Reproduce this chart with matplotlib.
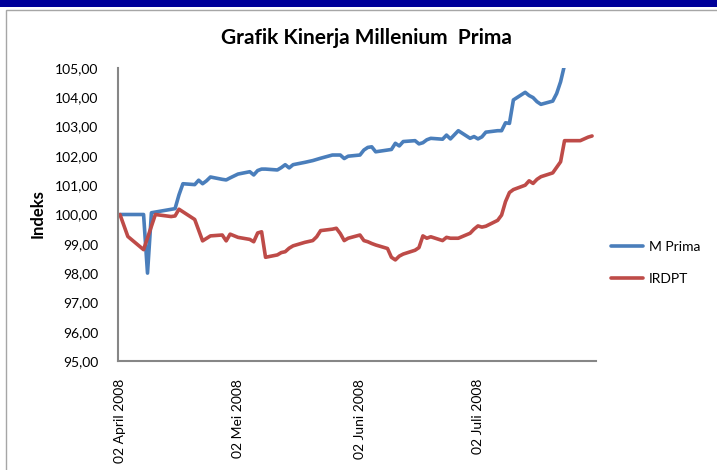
import matplotlib
matplotlib.use("Agg")
import matplotlib.pyplot as plt
import matplotlib.dates as mdates
import numpy as np
from matplotlib.patches import Rectangle

plt.rcParams['font.family'] = ['Lato', 'DejaVu Sans']

# M Prima (blue)
mprima_dates = ["2008-04-02", "2008-04-08", "2008-04-09", "2008-04-10", "2008-04-16",
                "2008-04-17", "2008-04-18", "2008-04-21", "2008-04-22", "2008-04-23",
                "2008-04-24", "2008-04-25", "2008-04-28", "2008-04-29", "2008-04-30",
                "2008-05-02", "2008-05-05", "2008-05-06", "2008-05-07", "2008-05-08",
                "2008-05-09", "2008-05-12", "2008-05-13", "2008-05-14", "2008-05-15",
                "2008-05-16", "2008-05-19", "2008-05-21", "2008-05-22", "2008-05-23",
                "2008-05-26", "2008-05-27", "2008-05-28", "2008-05-29", "2008-05-30",
                "2008-06-02", "2008-06-03", "2008-06-04", "2008-06-05", "2008-06-06",
                "2008-06-09", "2008-06-10", "2008-06-11", "2008-06-12", "2008-06-13",
                "2008-06-16", "2008-06-17", "2008-06-18", "2008-06-19", "2008-06-20",
                "2008-06-23", "2008-06-24", "2008-06-25", "2008-06-27", "2008-06-30",
                "2008-07-01", "2008-07-02", "2008-07-03", "2008-07-04", "2008-07-07",
                "2008-07-08", "2008-07-09", "2008-07-10", "2008-07-11", "2008-07-14",
                "2008-07-15", "2008-07-16", "2008-07-17", "2008-07-18", "2008-07-21",
                "2008-07-22", "2008-07-23", "2008-07-24"]
mprima = [100.00, 100.00, 98.00, 100.06, 100.20,
          100.67, 101.05, 101.02, 101.17, 101.05,
          101.15, 101.28, 101.20, 101.18, 101.25,
          101.38, 101.46, 101.35, 101.50, 101.55,
          101.55, 101.52, 101.60, 101.70, 101.59,
          101.70, 101.78, 101.84, 101.88, 101.92,
          102.03, 102.03, 102.03, 101.91, 101.99,
          102.03, 102.20, 102.29, 102.31, 102.14,
          102.20, 102.22, 102.43, 102.34, 102.49,
          102.52, 102.41, 102.45, 102.55, 102.60,
          102.57, 102.71, 102.58, 102.86, 102.60,
          102.66, 102.58, 102.65, 102.81, 102.86,
          102.86, 103.13, 103.11, 103.91, 104.17,
          104.06, 103.99, 103.85, 103.76, 103.87,
          104.13, 104.53, 105.10]

# IRDPT (red)
irdpt_dates = ["2008-04-02", "2008-04-04", "2008-04-08", "2008-04-11", "2008-04-15",
               "2008-04-16", "2008-04-17", "2008-04-21", "2008-04-23", "2008-04-25",
               "2008-04-28", "2008-04-29", "2008-04-30", "2008-05-02", "2008-05-05",
               "2008-05-06", "2008-05-07", "2008-05-08", "2008-05-09", "2008-05-12",
               "2008-05-13", "2008-05-14", "2008-05-15", "2008-05-16", "2008-05-19",
               "2008-05-21", "2008-05-22", "2008-05-23", "2008-05-26", "2008-05-27",
               "2008-05-28", "2008-05-29", "2008-05-30", "2008-06-02", "2008-06-03",
               "2008-06-04", "2008-06-05", "2008-06-06", "2008-06-09", "2008-06-10",
               "2008-06-11", "2008-06-12", "2008-06-13", "2008-06-16", "2008-06-17",
               "2008-06-18", "2008-06-19", "2008-06-20", "2008-06-23", "2008-06-24",
               "2008-06-25", "2008-06-26", "2008-06-27", "2008-06-30", "2008-07-01",
               "2008-07-02", "2008-07-03", "2008-07-04", "2008-07-07", "2008-07-08",
               "2008-07-09", "2008-07-10", "2008-07-11", "2008-07-14", "2008-07-15",
               "2008-07-16", "2008-07-17", "2008-07-18", "2008-07-21", "2008-07-22",
               "2008-07-23", "2008-07-24", "2008-07-25", "2008-07-28", "2008-07-29",
               "2008-07-30", "2008-07-31"]
irdpt = [100.00, 99.25, 98.80, 100.00, 99.93,
         99.95, 100.18, 99.83, 99.10, 99.27,
         99.30, 99.10, 99.33, 99.22, 99.15,
         99.07, 99.37, 99.41, 98.54, 98.62,
         98.70, 98.73, 98.85, 98.93, 99.05,
         99.11, 99.24, 99.45, 99.50, 99.53,
         99.35, 99.11, 99.19, 99.30, 99.11,
         99.07, 99.01, 98.96, 98.84, 98.54,
         98.45, 98.58, 98.65, 98.78, 98.87,
         99.27, 99.19, 99.24, 99.11, 99.22,
         99.19, 99.19, 99.19, 99.36, 99.50,
         99.61, 99.57, 99.60, 99.80, 99.98,
         100.44, 100.75, 100.85, 101.00, 101.15,
         101.06, 101.20, 101.29, 101.42, 101.61,
         101.80, 102.52, 102.52, 102.52, 102.58,
         102.64, 102.68]

tick_dates = ["2008-04-02", "2008-05-02", "2008-06-02", "2008-07-02"]
tick_labels = ["02 April 2008", "02 Mei 2008", "02 Juni 2008", "02 Juli 2008"]
y_ticks = np.arange(95, 105.5, 1)

W, H = 717, 470
fig = plt.figure(figsize=(W / 100, H / 100), dpi=100)

# header bar and chart frame
fig.patches.append(Rectangle((0, 1 - 7 / H), 1, 7 / H, transform=fig.transFigure,
                             facecolor="#000099", edgecolor="none"))
fig.patches.append(Rectangle((5.5 / W, -0.01), 1, 1 - 9.5 / H + 0.01, transform=fig.transFigure,
                             facecolor="none", edgecolor="#a6a6a6", linewidth=1))

ax = fig.add_axes([118 / W, (H - 361) / H, (596 - 118) / W, (361 - 68) / H])

d_m = np.array(mprima_dates, dtype="datetime64[D]")
d_i = np.array(irdpt_dates, dtype="datetime64[D]")
ax.plot(d_m, mprima, color="#4a7ebb", linewidth=2.6, label="M Prima", solid_capstyle="round")
ax.plot(d_i, irdpt, color="#be4b48", linewidth=2.6, label="IRDPT", solid_capstyle="round")

start = np.datetime64("2008-04-02")
ax.set_xlim(mdates.date2num(start) - 0.5, mdates.date2num(start) + 121.0)
ax.set_ylim(95, 105)

ax.set_xticks(np.array(tick_dates, dtype="datetime64[D]"))
ax.set_xticklabels(tick_labels, rotation=90, fontsize=10)
ax.set_yticks(y_ticks)
ax.set_yticklabels([f"{v:.2f}".replace(".", ",") for v in y_ticks], fontsize=10)
ax.tick_params(axis="both", length=0)
ax.tick_params(axis="y", pad=14)
ax.tick_params(axis="x", pad=13)

for s in ["top", "right"]:
    ax.spines[s].set_visible(False)
for s in ["left", "bottom"]:
    ax.spines[s].set_color("#868686")
    ax.spines[s].set_linewidth(1.5)

fig.text(38 / W, 1 - 214 / H, "Indeks", rotation=90, ha="center", va="center",
         fontsize=12, fontweight="bold")
fig.text(366 / W, 1 - 38 / H, "Grafik Kinerja Millenium  Prima", ha="center", va="center",
         fontsize=15, fontweight="bold")

ax.legend(loc="center left", bbox_to_anchor=(611 / W, 1 - 263 / H), bbox_transform=fig.transFigure,
          frameon=False, fontsize=10, handlelength=2.3, handletextpad=0.45, labelspacing=1.4,
          borderpad=0, borderaxespad=0)

fig.savefig("out.png", dpi=100)
